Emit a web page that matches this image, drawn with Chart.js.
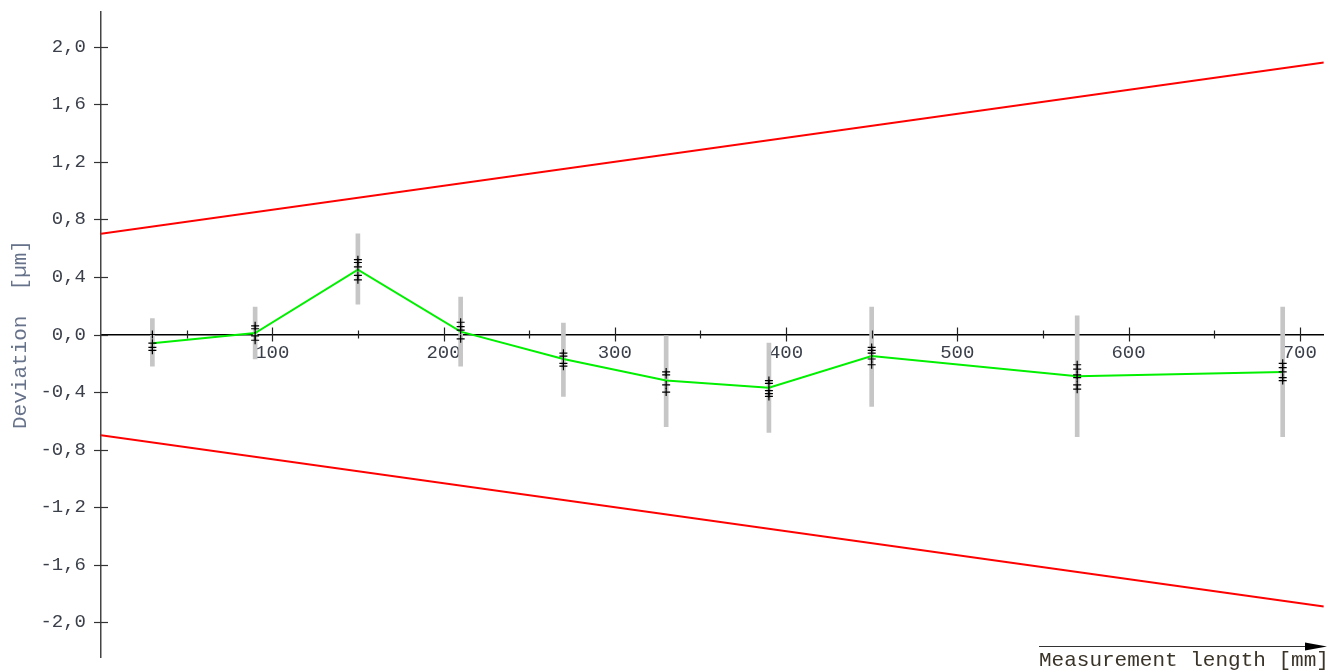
<!DOCTYPE html>
<html>
<head>
<meta charset="utf-8">
<title>Deviation</title>
<script src="https://cdn.jsdelivr.net/npm/chart.js@4"></script>
<style>
  html, body { margin: 0; padding: 0; background: #fff; overflow: hidden; }
  #wrap { position: relative; width: 1329px; height: 672px; }
</style>
</head>
<body>
<div id="wrap"><canvas id="chart"></canvas></div>
<script>
// measuring positions [mm]
const positions = [30, 90, 150, 210, 270, 330, 390, 450, 570, 690];
// mean deviation [µm]
const meanDev = [-0.06, 0.01, 0.45, 0.02, -0.17, -0.32, -0.37, -0.15, -0.29, -0.26];
// spread (gray bars)
const rangeHigh = [0.11, 0.19, 0.70, 0.26, 0.08, -0.01, -0.06, 0.19, 0.13, 0.19];
const rangeLow = [-0.22, -0.17, 0.21, -0.22, -0.43, -0.64, -0.68, -0.50, -0.71, -0.71];
// single runs
const samples = [
    [0.0, -0.06, -0.09, -0.11],
    [0.06, 0.04, -0.01, -0.04],
    [0.52, 0.50, 0.47, 0.41, 0.38],
    [0.085, 0.055, 0.03, -0.03],
    [-0.13, -0.15, -0.20, -0.22],
    [-0.26, -0.28, -0.35, -0.40],
    [-0.32, -0.34, -0.39, -0.41, -0.43],
    [-0.09, -0.11, -0.13, -0.17, -0.21],
    [-0.21, -0.24, -0.28, -0.30, -0.35, -0.38],
    [-0.20, -0.23, -0.26, -0.30, -0.32]
];
// tolerance limits
const limitX = [0, 714];
const upperLimit = [0.7, 1.89];
const lowerLimit = [-0.7, -1.89];

const yTicks = [-2.0, -1.6, -1.2, -0.8, -0.4, 0.0, 0.4, 0.8, 1.2, 1.6, 2.0];
const xTicks = [50, 100, 150, 200, 250, 300, 350, 400, 450, 500, 550, 600, 650, 700];

const monoFont = "'Courier New', 'Liberation Mono', monospace";

const crossTicks = {
    id: 'crossTicks',
    afterDraw(chart) {
        const {ctx, scales: {x, y}} = chart;
        const y0 = y.getPixelForValue(0);
        ctx.save();
        ctx.strokeStyle = '#222';
        ctx.lineWidth = 1.2;
        x.ticks.forEach(t => {
            const px = Math.round(x.getPixelForValue(t.value)) + 0.5;
            const h = t.value % 100 === 0 ? 7 : 4;
            ctx.beginPath();
            ctx.moveTo(px, y0 - h);
            ctx.lineTo(px, y0 + h);
            ctx.stroke();
        });
        ctx.strokeStyle = '#333';
        y.ticks.forEach(t => {
            const py = Math.round(y.getPixelForValue(t.value)) + 0.5;
            ctx.beginPath();
            ctx.moveTo(x.left - 7, py);
            ctx.lineTo(x.left + 7, py);
            ctx.stroke();
        });

        // axis caption with arrow, bottom right
        const x1 = chart.width - 290;
        const x2 = chart.width - 2;
        const ly = chart.height - 26;
        ctx.strokeStyle = '#333';
        ctx.lineWidth = 1;
        ctx.beginPath();
        ctx.moveTo(x1, ly + 0.5);
        ctx.lineTo(x2 - 18, ly + 0.5);
        ctx.stroke();
        ctx.fillStyle = '#000';
        ctx.beginPath();
        ctx.moveTo(x2 - 22, ly - 3.5);
        ctx.lineTo(x2, ly + 0.5);
        ctx.lineTo(x2 - 22, ly + 4.5);
        ctx.closePath();
        ctx.fill();
        ctx.font = '21px ' + monoFont;
        ctx.fillStyle = '#3a3328';
        ctx.textAlign = 'left';
        ctx.textBaseline = 'alphabetic';
        ctx.fillText('Measurement length [mm]', x1, chart.height - 6);
        ctx.restore();
    }
};

const ctx = document.getElementById('chart').getContext('2d');
new Chart(ctx, {
    type: 'line',
    data: {
        datasets: [
            {
                type: 'scatter',
                data: positions.flatMap((p, i) => samples[i].map(v => ({x: p, y: v}))),
                pointStyle: 'cross',
                pointRadius: 4,
                borderColor: '#000',
                backgroundColor: '#000',
                borderWidth: 1.2,
                order: 0
            },
            {
                data: positions.map((p, i) => ({x: p, y: meanDev[i]})),
                borderColor: '#00f000',
                borderWidth: 2,
                pointRadius: 0,
                tension: 0,
                order: 1
            },
            {
                type: 'bar',
                data: positions.map((p, i) => ({x: p, y: [rangeLow[i], rangeHigh[i]]})),
                backgroundColor: '#c6c6c6',
                borderWidth: 0,
                barThickness: 4,
                order: 2
            },
            {
                data: limitX.map((p, i) => ({x: p, y: upperLimit[i]})),
                borderColor: '#ff0000',
                borderWidth: 2,
                pointRadius: 0,
                order: 3
            },
            {
                data: limitX.map((p, i) => ({x: p, y: lowerLimit[i]})),
                borderColor: '#ff0000',
                borderWidth: 2,
                pointRadius: 0,
                order: 3
            }
        ]
    },
    options: {
        responsive: true,
        maintainAspectRatio: false,
        animation: false,
        layout: { padding: { top: 12, right: 4, left: 0, bottom: 15 } },
        plugins: {
            legend: { display: false },
            tooltip: { enabled: false }
        },
        scales: {
            x: {
                type: 'linear',
                position: { y: 0 },
                min: 0,
                max: 714,
                offset: false,
                afterFit: s => { s.height = 15; s.paddingLeft = 0; s.paddingRight = 0; },
                afterBuildTicks: s => { s.ticks = xTicks.map(v => ({value: v})); },
                grid: { display: true, drawOnChartArea: false, drawTicks: true, tickLength: 7, color: 'rgba(0,0,0,0)' },
                border: { display: true, color: '#000', width: 1.5 },
                ticks: {
                    autoSkip: false,
                    maxRotation: 0,
                    padding: 0,
                    color: '#3a3f4a',
                    font: { family: monoFont, size: 19 },
                    callback: v => (v % 100 === 0 ? String(v) : '')
                }
            },
            y: {
                type: 'linear',
                min: -2.24,
                max: 2.24,
                afterFit: s => { s.width = 101; s.paddingTop = 0; s.paddingBottom = 0; },
                afterBuildTicks: s => { s.ticks = yTicks.map(v => ({value: v})); },
                grid: { display: true, drawOnChartArea: false, drawTicks: true, tickLength: 7, color: 'rgba(0,0,0,0)' },
                border: { display: true, color: '#444', width: 1.5 },
                title: {
                    display: true,
                    text: 'Deviation  [µm]',
                    color: '#66728a',
                    font: { family: monoFont, size: 21 },
                    padding: { top: 8, bottom: 0 }
                },
                ticks: {
                    autoSkip: false,
                    padding: 8,
                    color: '#3a3f4a',
                    font: { family: monoFont, size: 19 },
                    callback: v => v.toFixed(1).replace('.', ',')
                }
            }
        }
    },
    plugins: [crossTicks]
});
</script>
</body>
</html>
